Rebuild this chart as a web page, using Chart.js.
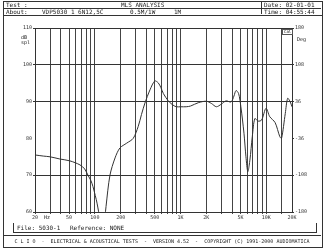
<!DOCTYPE html>
<html>
<head>
<meta charset="utf-8">
<script src="https://cdn.jsdelivr.net/npm/chart.js@4"></script>
<style>
  body { margin: 0; background: #fff; }
  #wrap { position: relative; width: 325px; height: 250px; overflow: hidden; font-family: "DejaVu Sans Mono", monospace; color: #222; }
  #grafico { position: absolute; left: 0; top: 0; }
  .t { position: absolute; white-space: pre; font-size: 6px; line-height: 6px; }
  .box { position: absolute; border: 1px solid #333; }
</style>
</head>
<body>
<div id="wrap">
  <canvas id="grafico" width="325" height="250"></canvas>
  <!-- marco exterior y cabecera -->
  <div class="box" style="left:3px;top:1px;width:318px;height:245px;"></div>
  <div class="box" style="left:3px;top:1px;width:318px;height:13px;"></div>
  <div class="box" style="left:3px;top:8px;width:318px;height:0;border-width:1px 0 0 0;"></div>
  <div class="box" style="left:261px;top:1px;width:0;height:13px;border-width:0 0 0 1px;"></div>
  <div class="t" style="left:6px;top:2px;">Test :</div>
  <div class="t" style="left:121px;top:2px;">MLS ANALYSIS</div>
  <div class="t" style="left:264px;top:2px;">Date: 02-01-01</div>
  <div class="t" style="left:6px;top:9px;">About:</div>
  <div class="t" style="left:42px;top:9px;">VDP5030 1 6N12,5C</div>
  <div class="t" style="left:130px;top:9px;">0.5M/1W</div>
  <div class="t" style="left:174px;top:9px;">1M</div>
  <div class="t" style="left:264px;top:9px;">Time: 04:55:44</div>
  <!-- etiquetas de ejes -->
  <div class="t" style="left:21px;top:35px;font-size:5px;line-height:5px;">dB
spl</div>
  <div class="t" style="left:297px;top:36px;font-size:5px;">Deg</div>
  <div class="t" style="left:44px;top:214px;font-size:5px;">Hz</div>
  <div class="t" style="left:282px;top:29px;font-size:4px;line-height:4px;border:1px solid #555;padding:0 1px;">Cal</div>
  <!-- pie -->
  <div class="box" style="left:13px;top:223px;width:302px;height:9px;border-top:none;"></div>
  <div class="t" style="left:17px;top:225px;">File: 5030-1</div>
  <div class="t" style="left:70px;top:225px;">Reference: NONE</div>
  <div class="box" style="left:3px;top:235px;width:318px;height:0;border-width:1px 0 0 0;"></div>
  <div class="t" style="left:3px;top:238px;width:318px;text-align:center;font-size:5px;">C L I O  -  ELECTRICAL &amp; ACOUSTICAL TESTS  -  VERSION 4.52  -  COPYRIGHT (C) 1991-2000 AUDIOMATICA</div>
</div>
<script>
// Respuesta en frecuencia (Hz, dB SPL)
const frecuencias = [20, 25, 30, 39, 51, 67, 76, 83, 90, 95, 101, 106, 114, 121, 128, 135, 150, 172, 196, 235,
  280, 320, 350, 384, 440, 500, 549, 590, 630, 719, 800, 890, 1000, 1165, 1310, 1610, 2005, 2290, 2620, 2990,
  3400, 3890, 4200, 4440, 4760, 5060, 5500, 5800, 6100, 6450, 6880, 7370, 8050, 8840, 9950, 11000, 12700,
  14400, 15100, 16700, 17800, 19000, 20000];
const nivelesSpl = [75.5, 75.2, 75, 74.4, 73.9, 72.8, 71.7, 70, 68.5, 66.9, 64.5, 62.4, 58, 50, 56, 61.5, 70, 74.7, 77.4, 78.7,
  80, 83.2, 86.5, 89.6, 93.2, 95.6, 95.1, 93.8, 92.2, 90.2, 89.2, 88.6, 88.6, 88.6, 88.8, 89.7, 90.1, 89.5, 88.6, 89.3,
  90.2, 89.9, 91.5, 93, 92.2, 88.6, 81.4, 75, 71, 74.1, 80.5, 85.4, 84.7, 85, 88.2, 85.9, 84.3,
  80.5, 80, 86.8, 90.9, 90, 88.6];

// lineas de la rejilla vertical y sus etiquetas
const lineasFrec = [20, 30, 40, 50, 60, 70, 80, 90, 100, 200, 300, 400, 500, 600, 700, 800, 900, 1000,
  2000, 3000, 4000, 5000, 6000, 7000, 8000, 9000, 10000, 15000, 20000];
const etiquetasFrec = [20, 50, 100, 200, 500, 1000, 2000, 5000, 10000, 20000];
const textosFrec = ["20", "50", "100", "200", "500", "1K", "2K", "5K", "10K", "20K"];
const ticksDb = [110, 100, 90, 80, 70, 60];
const ticksFase = [180, 108, 36, -36, -108, -180];

const fuente = { family: "DejaVu Sans Mono", size: 5 };
const puntos = frecuencias.map((f, i) => ({ x: f, y: nivelesSpl[i] }));

new Chart(document.getElementById("grafico"), {
    type: "line",
    data: {
        datasets: [{
            data: puntos,
            borderColor: "#333",
            borderWidth: 1,
            pointRadius: 0,
            tension: 0.3
        }]
    },
    options: {
        responsive: false,
        animation: false,
        layout: { padding: { top: 28, left: 0, right: 0, bottom: 0 } },
        plugins: { legend: { display: false }, tooltip: { enabled: false } },
        scales: {
            x: {
                type: "logarithmic",
                min: 20,
                max: 20000,
                afterBuildTicks: s => { s.ticks = lineasFrec.map(v => ({ value: v })); },
                afterFit: s => { s.height = 38; },
                ticks: {
                    autoSkip: false,
                    maxRotation: 0,
                    padding: 1,
                    color: "#333",
                    font: fuente,
                    callback: v => {
                        const i = etiquetasFrec.indexOf(v);
                        return i >= 0 ? textosFrec[i] : "";
                    }
                },
                grid: {
                    color: c => (c.tick && c.tick.value === 20000) ? "rgba(0,0,0,0)" : "#444",
                    lineWidth: 1,
                    tickLength: 2
                },
                border: { color: "#333" }
            },
            y: {
                position: "left",
                min: 60,
                max: 110,
                afterBuildTicks: s => { s.ticks = ticksDb.map(v => ({ value: v })); },
                afterFit: s => { s.width = 35; },
                ticks: { padding: 1, color: "#333", font: fuente },
                grid: {
                    color: c => (c.tick && c.tick.value === 80) ? "rgba(0,0,0,0)" : "#333",
                    lineWidth: 1,
                    tickLength: 2
                },
                border: { color: "#333" }
            },
            fase: {
                position: "right",
                min: -180,
                max: 180,
                afterBuildTicks: s => { s.ticks = ticksFase.map(v => ({ value: v })); },
                afterFit: s => { s.width = 33; },
                ticks: { padding: 1, color: "#333", font: fuente },
                grid: { drawOnChartArea: false, color: "#333", tickLength: 2 },
                border: { color: "#333", dash: [2, 1] }
            }
        }
    }
});
</script>
</body>
</html>
